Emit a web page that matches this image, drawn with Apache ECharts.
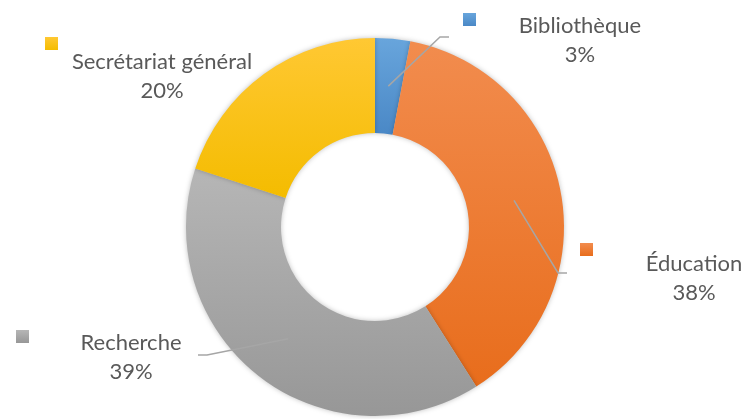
<!DOCTYPE html>
<html>
<head>
<meta charset="utf-8">
<script src="https://cdn.jsdelivr.net/npm/echarts@6/dist/echarts.min.js"></script>
<style>
html, body { margin: 0; padding: 0; background: #fff; }
#chart { width: 746px; height: 419px; }
</style>
</head>
<body>
<div id="chart"></div>
<script>
// donnees
var categories = ['Bibliothèque', 'Éducation', 'Recherche', 'Secrétariat général'];
var values = [3, 38, 39, 20];

// couleurs (haut clair -> bas fonce)
var topColors = ['#68a5dc', '#f28c4e', '#b6b6b6', '#ffc833'];
var bottomColors = ['#4a88c6', '#e86d1c', '#979797', '#f4bc00'];

var center = [375, 227];
var radius = [94, 189];

// position des etiquettes : [centre x, centre y, fin du trait x, fin du trait y]
var labelPos = [
	[580, 40, 449, 37],
	[694, 278, 567, 273],
	[131, 357, 198, 355],
	[162, 76, null, null]
];
// position des carres de legende
var keyPos = [[463, 13], [580, 243], [16, 330], [45, 37]];

function midAngle(idx) {
	var total = 0, before = 0;
	for (var i = 0; i < values.length; i++) {
		total += values[i];
		if (i < idx) before += values[i];
	}
	return (before + values[idx] / 2) / total * Math.PI * 2;
}

var chart = echarts.init(document.getElementById('chart'));

var pieData = [];
var overlayData = [];
for (var i = 0; i < categories.length; i++) {
	pieData.push({
		name: categories[i],
		value: values[i],
		itemStyle: {
			color: new echarts.graphic.LinearGradient(0, 0, 0, 1, [
				{ offset: 0, color: topColors[i] },
				{ offset: 1, color: bottomColors[i] }
			])
		}
	});
	overlayData.push({
		name: categories[i],
		value: values[i],
		labelLine: { show: labelPos[i][2] != null }
	});
}

var legends = [];
for (var j = 0; j < categories.length; j++) {
	legends.push({
		data: [categories[j]],
		left: keyPos[j][0],
		top: keyPos[j][1],
		padding: 0,
		itemWidth: 13,
		itemHeight: 13,
		itemGap: 0,
		selectedMode: false,
		icon: 'rect',
		formatter: function () { return ''; }
	});
}

chart.setOption({
	animation: false,
	legend: legends,
	series: [{
		// anneau colore
		type: 'pie',
		center: center,
		radius: radius,
		startAngle: 90,
		clockwise: true,
		data: pieData,
		itemStyle: {
			shadowBlur: 5,
			shadowColor: 'rgba(0,0,0,0.25)'
		},
		label: { show: false },
		labelLine: { show: false }
	}, {
		// etiquettes et traits au-dessus de l'anneau
		type: 'pie',
		z: 5,
		silent: true,
		center: center,
		radius: radius,
		startAngle: 90,
		clockwise: true,
		data: overlayData,
		itemStyle: { color: 'rgba(0,0,0,0)' },
		label: {
			show: true,
			position: 'outside',
			formatter: '{n|{b}}\n{p|{d}%}',
			rich: {
				n: { fontFamily: 'Lato', fontSize: 22, lineHeight: 29, color: '#595959', align: 'center' },
				p: { fontFamily: 'Lato', fontSize: 22, lineHeight: 29, color: '#595959', align: 'center' }
			}
		},
		labelLine: {
			show: true,
			lineStyle: { color: '#a6a6a6', width: 1.5 }
		},
		labelLayout: function (params) {
			var p = labelPos[params.dataIndex];
			var res = { x: p[0], y: p[1], align: 'center', verticalAlign: 'middle' };
			if (p[2] != null) {
				var a = midAngle(params.dataIndex);
				var r = (radius[0] + radius[1]) / 2;
				var sx = center[0] + r * Math.sin(a);
				var sy = center[1] - r * Math.cos(a);
				var bx = p[2] > sx ? p[2] - 9 : p[2] + 9;
				res.labelLinePoints = [[sx, sy], [bx, p[3]], [p[2], p[3]]];
			}
			return res;
		}
	}]
});
</script>
</body>
</html>
